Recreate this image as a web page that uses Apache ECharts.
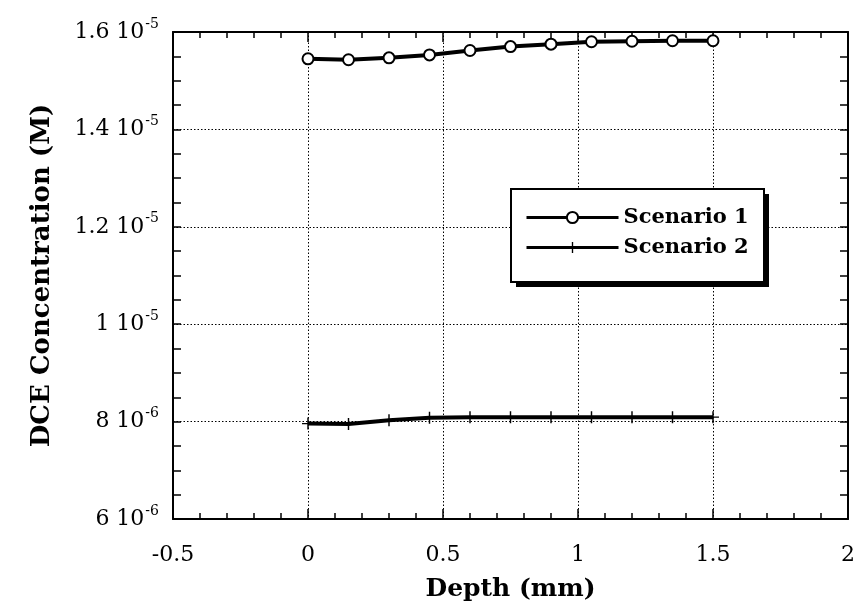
<!DOCTYPE html>
<html>
<head>
<meta charset="utf-8">
<script src="https://cdn.jsdelivr.net/npm/echarts@6/dist/echarts.min.js"></script>
<style>
  html, body { margin: 0; padding: 0; background: #fff; }
  #chart { width: 860px; height: 603px; }
</style>
</head>
<body>
<div id="chart"></div>
<script>
// depth (mm)
var depth = [0, 0.15, 0.3, 0.45, 0.6, 0.75, 0.9, 1.05, 1.2, 1.35, 1.5]
// DCE concentration (M)
var scenario1 = [1.545e-5, 1.543e-5, 1.547e-5, 1.553e-5, 1.562e-5, 1.570e-5, 1.575e-5, 1.580e-5, 1.581e-5, 1.582e-5, 1.582e-5]
var scenario2 = [7.96e-6, 7.95e-6, 8.03e-6, 8.08e-6, 8.09e-6, 8.09e-6, 8.09e-6, 8.09e-6, 8.09e-6, 8.09e-6, 8.09e-6]
var seriesNames = ['Scenario 1', 'Scenario 2']

var serif = '"DejaVu Serif", "Liberation Serif", serif'

function pairs (xs, ys) {
  return xs.map(function (x, i) { return [x, ys[i]] })
}

// "1.6 10^-5" style labels
function sciLabel (v) {
  var e = Math.floor(Math.log10(v) + 1e-9)
  var m = Math.round(v / Math.pow(10, e) * 10) / 10
  return '{m|' + m + ' 10}{e|' + e + '}'
}

var plus = 'path://M-0.6,-5 L0.6,-5 L0.6,-0.5 L5,-0.5 L5,0.5 L0.6,0.5 L0.6,5 L-0.6,5 L-0.6,0.5 L-5,0.5 L-5,-0.5 L-0.6,-0.5 Z'

var tickStyle = { color: '#000', width: 1.5 }
var axisLineStyle = { color: '#000', width: 2 }
var gridLineStyle = { color: '#000', type: [1.5, 2], width: 1 }

var chart = echarts.init(document.getElementById('chart'))
chart.setOption({
  animation: false,
  grid: { left: 173, right: 12, top: 32, bottom: 84, outerBoundsMode: 'none' },
  // legend box with drop shadow
  graphic: [
    { type: 'rect', left: 516, top: 194, z: 10, shape: { width: 253, height: 93 }, style: { fill: '#000' } },
    { type: 'rect', left: 510, top: 188, z: 11, shape: { width: 253, height: 93 }, style: { fill: '#fff', stroke: '#000', lineWidth: 2 } }
  ],
  legend: {
    data: seriesNames,
    orient: 'vertical',
    left: 525,
    top: 207,
    z: 20,
    padding: 0,
    itemGap: 9,
    itemWidth: 92,
    itemHeight: 14,
    lineStyle: { width: 3 },
    textStyle: { fontFamily: serif, fontWeight: 'bold', fontSize: 21, color: '#000' }
  },
  xAxis: [
    {
      type: 'value',
      min: -0.5,
      max: 2,
      interval: 0.5,
      name: 'Depth (mm)',
      nameLocation: 'middle',
      nameGap: 58,
      nameTextStyle: { fontFamily: serif, fontWeight: 'bold', fontSize: 25, color: '#000' },
      axisLine: { show: true, onZero: false, lineStyle: axisLineStyle },
      axisTick: { show: true, inside: true, length: 10, lineStyle: tickStyle },
      minorTick: { show: true, splitNumber: 5, length: 6, lineStyle: tickStyle },
      axisLabel: { fontFamily: serif, fontSize: 22, color: '#000', margin: 25 },
      splitLine: { show: true, lineStyle: gridLineStyle }
    },
    {
      type: 'value',
      position: 'top',
      min: -0.5,
      max: 2,
      interval: 0.5,
      axisLine: { show: true, onZero: false, lineStyle: axisLineStyle },
      axisTick: { show: true, inside: true, length: 10, lineStyle: tickStyle },
      minorTick: { show: true, splitNumber: 5, length: 6, lineStyle: tickStyle },
      axisLabel: { show: false },
      splitLine: { show: false }
    }
  ],
  yAxis: [
    {
      type: 'value',
      min: 6e-6,
      max: 1.6e-5,
      interval: 2e-6,
      name: 'DCE Concentration (M)',
      nameLocation: 'middle',
      nameGap: 118,
      nameTextStyle: { fontFamily: serif, fontWeight: 'bold', fontSize: 26, color: '#000' },
      axisLine: { show: true, onZero: false, lineStyle: axisLineStyle },
      axisTick: { show: true, inside: true, length: 8, lineStyle: tickStyle },
      minorTick: { show: true, splitNumber: 4, length: 8, lineStyle: tickStyle },
      axisLabel: {
        margin: 14,
        formatter: sciLabel,
        rich: {
          m: { fontFamily: serif, fontSize: 22, color: '#000' },
          e: { fontFamily: serif, fontSize: 14, color: '#000', padding: [0, 0, 16, 1] }
        }
      },
      splitLine: { show: true, lineStyle: gridLineStyle }
    },
    {
      type: 'value',
      position: 'right',
      min: 6e-6,
      max: 1.6e-5,
      interval: 2e-6,
      axisLine: { show: true, onZero: false, lineStyle: axisLineStyle },
      axisTick: { show: true, inside: true, length: 8, lineStyle: tickStyle },
      minorTick: { show: true, splitNumber: 4, length: 8, lineStyle: tickStyle },
      axisLabel: { show: false },
      splitLine: { show: false }
    }
  ],
  series: [
    {
      name: seriesNames[0],
      type: 'line',
      data: pairs(depth, scenario1),
      symbol: 'emptyCircle',
      symbolSize: 11,
      lineStyle: { color: '#000', width: 4 },
      itemStyle: { color: '#000', borderColor: '#000', borderWidth: 3 }
    },
    {
      name: seriesNames[1],
      type: 'line',
      data: pairs(depth, scenario2),
      symbol: plus,
      symbolSize: 12,
      lineStyle: { color: '#000', width: 4 },
      itemStyle: { color: '#000' }
    }
  ]
})
</script>
</body>
</html>
